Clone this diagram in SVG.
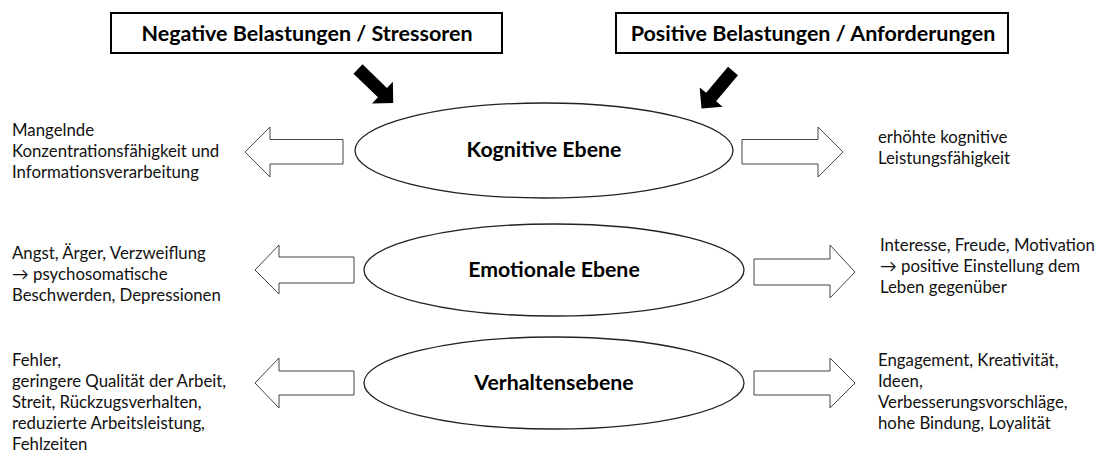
<svg xmlns="http://www.w3.org/2000/svg" width="1103" height="457" viewBox="0 0 1103 457">
<style>
.box{fill:#fff;stroke:#000;stroke-width:2}
.hdr{font-family:Lato,"Liberation Sans",sans-serif;font-weight:bold;font-size:21.5px;fill:#000;text-anchor:middle}
.ell{fill:#fff;stroke:#222;stroke-width:1.3}
.lvl{font-family:Lato,"Liberation Sans",sans-serif;font-weight:bold;font-size:21.3px;fill:#000;text-anchor:middle}
.txt{font-family:Lato,"Liberation Sans",sans-serif;font-size:16.8px;fill:#111}
.hollow{fill:#fff;stroke:#444;stroke-width:1}
.solid{fill:#000}
</style>
<defs>
<polygon id="blk" points="0,-6.5 34,-6.5 34,-15 49,0 34,15 34,6.5 0,6.5"/>
</defs>
<rect width="1103" height="457" fill="#fff"/>
<g id="neg">
<rect class="box" x="111" y="13" width="391" height="40"/>
<text class="hdr" x="307" y="41">Negative Belastungen / Stressoren</text>
</g>
<g id="pos">
<rect class="box" x="616" y="13" width="392" height="40"/>
<text class="hdr" x="813" y="41">Positive Belastungen / Anforderungen</text>
</g>
<g id="kognitiv">
<ellipse class="ell" cx="544" cy="150.5" rx="189" ry="47.5"/>
<text class="lvl" x="544" y="157">Kognitive Ebene</text>
</g>
<g id="emotional">
<ellipse class="ell" cx="554" cy="270" rx="190" ry="46"/>
<text class="lvl" x="554" y="277">Emotionale Ebene</text>
</g>
<g id="verhalten">
<ellipse class="ell" cx="554" cy="383" rx="190" ry="46"/>
<text class="lvl" x="554" y="390">Verhaltensebene</text>
</g>
<g id="kog-neg">
<text class="txt" x="12"><tspan x="12" y="136">Mangelnde</tspan><tspan x="12" y="157">Konzentrationsfähigkeit und</tspan><tspan x="12" y="178">Informationsverarbeitung</tspan></text>
</g>
<g id="kog-pos">
<text class="txt"><tspan x="878" y="143">erhöhte kognitive</tspan><tspan x="878" y="164">Leistungsfähigkeit</tspan></text>
</g>
<g id="emo-neg">
<text class="txt"><tspan x="12" y="259">Angst, Ärger, Verzweiflung</tspan><tspan x="12" y="280">→ psychosomatische</tspan><tspan x="12" y="301">Beschwerden, Depressionen</tspan></text>
</g>
<g id="emo-pos">
<text class="txt"><tspan x="880" y="251">Interesse, Freude, Motivation</tspan><tspan x="880" y="272">→ positive Einstellung dem</tspan><tspan x="880" y="293">Leben gegenüber</tspan></text>
</g>
<g id="ver-neg">
<text class="txt"><tspan x="12" y="366">Fehler,</tspan><tspan x="12" y="387">geringere Qualität der Arbeit,</tspan><tspan x="12" y="408">Streit, Rückzugsverhalten,</tspan><tspan x="12" y="429">reduzierte Arbeitsleistung,</tspan><tspan x="12" y="450">Fehlzeiten</tspan></text>
</g>
<g id="ver-pos">
<text class="txt"><tspan x="878" y="366">Engagement, Kreativität,</tspan><tspan x="878" y="387">Ideen,</tspan><tspan x="878" y="408">Verbesserungsvorschläge,</tspan><tspan x="878" y="429">hohe Bindung, Loyalität</tspan></text>
</g>
<g id="connectors">
<use href="#blk" class="solid" transform="translate(358,69) rotate(44)"/>
<use href="#blk" class="solid" transform="translate(733,71) rotate(130)"/>
<polygon class="hollow" points="245,152 270,127 270,139.5 343,139.5 343,164 270,164 270,177"/>
<polygon class="hollow" points="843,152 818,127 818,139.5 742,139.5 742,164 818,164 818,177"/>
<polygon class="hollow" points="255,270 279,245 279,257 354,257 354,283 279,283 279,294"/>
<polygon class="hollow" points="855,272 830,245 830,259 754,259 754,285 830,285 830,298"/>
<polygon class="hollow" points="255,383 279,358 279,371 354,371 354,395 279,395 279,408"/>
<polygon class="hollow" points="855,383 830,358 830,371 754,371 754,395 830,395 830,408"/>
</g>
</svg>
